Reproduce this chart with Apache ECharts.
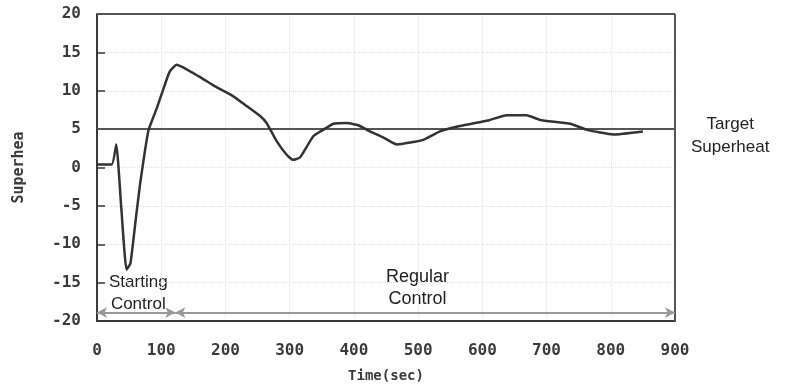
<!DOCTYPE html>
<html>
<head>
<meta charset="utf-8">
<script src="https://cdn.jsdelivr.net/npm/echarts@6/dist/echarts.min.js"></script>
<style>
  html, body { margin: 0; padding: 0; background: #fff; }
  #chart { width: 785px; height: 388px; }
</style>
</head>
<body>
<div id="chart"></div>
<script>
// values
const timeSec = [0, 23, 30, 38, 46, 52, 60, 67, 80, 93, 109, 114, 124, 160, 181, 210, 233, 254, 264, 280, 295, 305, 316, 337, 352, 368, 389, 407, 425, 446, 467, 508, 534, 565, 612, 638, 669, 690, 737, 763, 804, 850];
const superheat = [0.4, 0.4, 3.0, -5.5, -13.3, -12.5, -7, -2.2, 4.8, 7.7, 11.6, 12.6, 13.4, 11.8, 10.7, 9.4, 8.0, 6.7, 5.8, 3.4, 1.7, 1.0, 1.3, 4.1, 4.9, 5.7, 5.8, 5.5, 4.7, 3.9, 3.0, 3.6, 4.7, 5.4, 6.2, 6.8, 6.8, 6.2, 5.7, 4.9, 4.3, 4.7];
const targetSuperheat = 5;
const switchTime = 122;
const yTicks = [-20, -15, -10, -5, 0, 5, 10, 15, 20];
const xTicks = [0, 100, 200, 300, 400, 500, 600, 700, 800, 900];

const chart = echarts.init(document.getElementById('chart'));
const dotFont = 'DejaVu Sans Mono';
const ink = '#3a3a3a';

const option = {
    backgroundColor: '#fff',
    animation: false,
    grid: { left: 97, right: 110, top: 14, bottom: 64 },
    xAxis: {
        type: 'value',
        min: xTicks[0],
        max: xTicks[xTicks.length - 1],
        interval: 100,
        name: 'Time(sec)',
        nameLocation: 'middle',
        nameGap: 48,
        nameTextStyle: { fontFamily: dotFont, fontWeight: 'bold', fontSize: 14, color: ink },
        axisLine: { onZero: false, lineStyle: { color: ink, width: 2 } },
        axisTick: { show: false },
        axisLabel: { fontFamily: dotFont, fontWeight: 'bold', fontSize: 16, color: ink, margin: 22 },
        splitLine: { show: true, lineStyle: { color: '#e2e2e2', type: 'dotted', width: 1 } }
    },
    yAxis: {
        type: 'value',
        min: yTicks[0],
        max: yTicks[yTicks.length - 1],
        interval: 5,
        name: 'Superhea',
        nameLocation: 'middle',
        nameGap: 70,
        nameRotate: 90,
        nameTextStyle: { fontFamily: dotFont, fontWeight: 'bold', fontSize: 15, color: ink },
        axisLine: { lineStyle: { color: ink, width: 2 } },
        axisTick: { show: true, inside: true, length: 8, lineStyle: { color: ink, width: 1.5 } },
        axisLabel: { fontFamily: dotFont, fontWeight: 'bold', fontSize: 16, color: ink, margin: 16 },
        splitLine: { show: true, lineStyle: { color: '#e2e2e2', type: 'dotted', width: 1 } }
    },
    series: [{
        type: 'line',
        data: timeSec.map((t, i) => [t, superheat[i]]),
        smooth: 0.15,
        symbol: 'none',
        lineStyle: { color: '#333', width: 2.5 },
        z: 5,
        markLine: {
            silent: true,
            symbol: 'none',
            label: { show: false },
            lineStyle: { color: '#555', width: 2, type: 'solid' },
            data: [
                [{ coord: [0, targetSuperheat] }, { coord: [900, targetSuperheat] }],
                [{ coord: [switchTime, 20] }, { coord: [switchTime, -20.8] }],
                [{ coord: [0, 20] }, { coord: [900, 20] }],
                [{ coord: [900, 20] }, { coord: [900, -20] }]
            ]
        }
    }, {
        type: 'line',
        data: [],
        markLine: {
            silent: true,
            symbol: ['arrow', 'arrow'],
            symbolSize: [8, 10],
            label: { show: false },
            lineStyle: { color: '#999', width: 2, type: 'solid' },
            data: [
                [{ coord: [0, -18.9] }, { coord: [switchTime, -18.9] }],
                [{ coord: [switchTime, -18.9] }, { coord: [900, -18.9] }]
            ]
        }
    }],
    graphic: [
        {
            type: 'text', left: 691, top: 113,
            style: { text: 'Target\nSuperheat', font: '17px "Liberation Sans"', fill: '#222', textAlign: 'center', lineHeight: 23, x: 45 }
        },
        {
            type: 'text', left: 109, top: 271,
            style: { text: 'Starting\nControl', font: '17px "Liberation Sans"', fill: '#222', textAlign: 'center', lineHeight: 22, x: 36 }
        },
        {
            type: 'text', left: 386, top: 266,
            style: { text: 'Regular\nControl', font: '18px "Liberation Sans"', fill: '#222', textAlign: 'center', lineHeight: 22, x: 37 }
        }
    ]
};

chart.setOption(option);
</script>
</body>
</html>
